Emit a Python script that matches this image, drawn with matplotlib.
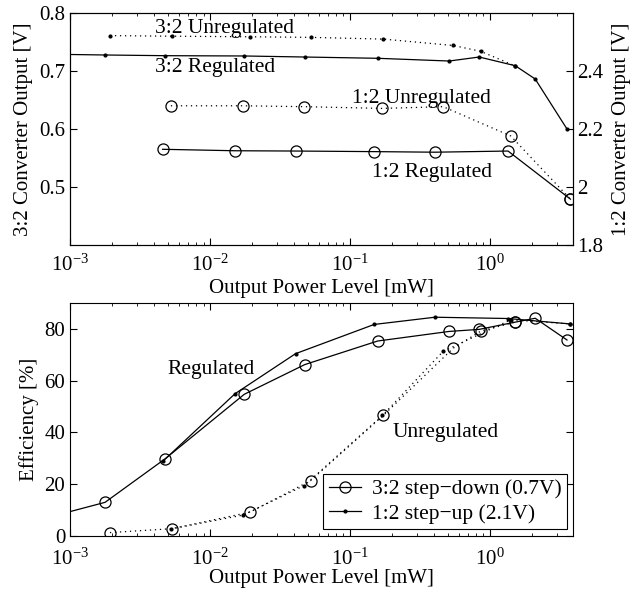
import matplotlib
matplotlib.use("Agg")
import matplotlib.pyplot as plt
from matplotlib.ticker import LogLocator, NullFormatter

plt.rcParams['font.family'] = ['Liberation Serif', 'DejaVu Serif']
plt.rcParams['mathtext.fontset'] = 'stix'
plt.rcParams['font.size'] = 15

# ---------------- data ----------------
# Top panel: 3:2 converter (left axis, dot markers)
p32_unreg = [0.00193, 0.00532, 0.0193, 0.0524, 0.173, 0.547, 0.859, 1.51]
v32_unreg = [0.761, 0.760, 0.759, 0.758, 0.755, 0.744, 0.734, 0.709]
p32_reg = [0.0007, 0.00178, 0.0048, 0.0176, 0.0477, 0.158, 0.512, 0.84, 1.52, 2.11, 3.56]
v32_reg = [0.729, 0.7276, 0.7264, 0.7259, 0.7241, 0.7219, 0.7172, 0.7241, 0.7091, 0.6862, 0.600]
# Top panel: 1:2 converter (right axis, circle markers)
p12_unreg = [0.00526, 0.0173, 0.0472, 0.171, 0.464, 1.41, 3.77]
v12_unreg = [2.280, 2.280, 2.277, 2.271, 2.277, 2.176, 1.958]
p12_reg = [0.00459, 0.0151, 0.0409, 0.149, 0.405, 1.35, 3.77]
v12_reg = [2.130, 2.125, 2.124, 2.122, 2.120, 2.124, 1.958]

# Bottom panel: efficiency [%]
e32_reg = [7.1, 12.9, 29.8, 54.7, 66.2, 75.3, 79.0, 79.8, 82.6, 84.1, 75.7]
e32_unreg = [1.2, 2.7, 9.1, 21.3, 46.5, 72.5, 79.1, 82.6]
e12_reg = [28.7, 54.9, 70.4, 81.7, 84.5, 84.0, 81.9]
e12_unreg = [2.6, 8.0, 19.4, 46.5, 71.3, 83.5, 81.9]

left_ticks = [0.5, 0.6, 0.7, 0.8]
left_labels = ['0.5', '0.6', '0.7', '0.8']
right_ticks = [1.8, 2.0, 2.2, 2.4]
right_labels = ['1.8', '2', '2.2', '2.4']
eff_ticks = [0, 20, 40, 60, 80]

xlabel = 'Output Power Level [mW]'
legend_labels = ['3:2 step\u2212down (0.7V)', '1:2 step\u2212up (2.1V)']

# ---------------- figure ----------------
fig = plt.figure(figsize=(6.41, 5.92), dpi=100)
W, H = 641, 592
ax1 = fig.add_axes([70 / W, 1 - 245 / H, 503.3 / W, 232 / H])
ax3 = fig.add_axes([70 / W, 1 - 535.7 / H, 503.3 / W, 232.7 / H])

dot = (0, (1, 3))
lw = 0.9
circ = dict(marker='o', markersize=8, markerfacecolor='none', markeredgecolor='black', markeredgewidth=0.9)

# top panel
ax1.plot(p32_unreg, v32_unreg, color='black', linestyle=dot, linewidth=lw, marker='.', markersize=4)
ax1.plot(p32_reg, v32_reg, color='black', linestyle='-', linewidth=lw, marker='.', markersize=4)
ax1.set_xscale('log')
ax1.set_xlim(1e-3, 3.95)
ax1.set_ylim(0.4, 0.8)
ax1.set_yticks(left_ticks)
ax1.set_yticklabels(left_labels)
ax1.set_ylabel('3:2 Converter Output [V]', labelpad=4)
ax1.set_xlabel(xlabel, labelpad=2)

ax2 = ax1.twinx()
ax2.plot(p12_unreg, v12_unreg, color='black', linestyle=dot, linewidth=lw, **circ)
ax2.plot(p12_reg, v12_reg, color='black', linestyle='-', linewidth=lw, **circ)
ax2.set_ylim(1.8, 2.6)
ax2.set_yticks(right_ticks)
ax2.set_yticklabels(right_labels)
ax2.set_ylabel('1:2 Converter Output [V]', labelpad=6)
ax2.set_xlim(1e-3, 3.95)

for a, pad in ((ax1, 7), (ax3, 9)):
    a.xaxis.set_major_locator(LogLocator(base=10, numticks=10))
    a.xaxis.set_minor_locator(LogLocator(base=10, subs=range(2, 10), numticks=20))
    a.xaxis.set_minor_formatter(NullFormatter())
    a.tick_params(axis='x', which='both', direction='in', top=True, pad=pad)
    a.tick_params(axis='x', which='major', length=5)
    a.tick_params(axis='x', which='minor', length=2.5)

ax1.tick_params(axis='y', direction='in', length=5, left=True, right=False)
ax2.tick_params(axis='y', direction='in', length=5, right=True, left=False, pad=3)

ax1.text(0.00405, 0.773, '3:2 Unregulated', ha='left', va='center', fontsize=15.5)
ax1.text(0.00405, 0.706, '3:2 Regulated', ha='left', va='center', fontsize=15.5)
ax1.text(0.103, 0.652, '1:2 Unregulated', ha='left', va='center', fontsize=15.5)
ax1.text(0.1436, 0.525, '1:2 Regulated', ha='left', va='center', fontsize=15.5)

# bottom panel
l1, = ax3.plot(p32_reg, e32_reg, color='black', linestyle='-', linewidth=lw, **circ)
ax3.plot(p32_unreg, e32_unreg, color='black', linestyle=dot, linewidth=lw, **circ)
l2, = ax3.plot(p12_reg, e12_reg, color='black', linestyle='-', linewidth=lw, marker='.', markersize=4)
ax3.plot(p12_unreg, e12_unreg, color='black', linestyle=dot, linewidth=lw, marker='.', markersize=4)
ax3.set_xscale('log')
ax3.set_xlim(1e-3, 3.95)
ax3.set_ylim(0, 90)
ax3.set_yticks(eff_ticks)
ax3.tick_params(axis='y', direction='in', length=5, left=True, right=True)
ax3.set_ylabel('Efficiency [%]', labelpad=4)
ax3.set_xlabel(xlabel, labelpad=0)
ax3.text(0.00493, 64.2, 'Regulated', ha='left', va='center', fontsize=15.5)
ax3.text(0.203, 39.8, 'Unregulated', ha='left', va='center', fontsize=15.5)

leg = ax3.legend([l1, l2], legend_labels, loc='lower right', fontsize=15.5,
                 fancybox=False, framealpha=1, edgecolor='black',
                 borderaxespad=0.3, handlelength=1.5, handletextpad=0.5,
                 borderpad=0.25, labelspacing=0.2)
leg.get_frame().set_linewidth(0.8)

for a in (ax1, ax2, ax3):
    for s in a.spines.values():
        s.set_linewidth(0.8)

fig.savefig('out.png', dpi=100)
